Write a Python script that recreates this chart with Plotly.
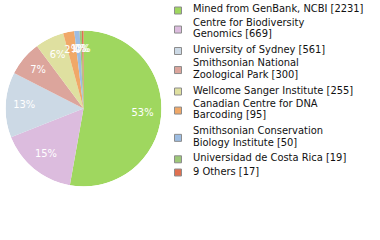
import numpy as np
import plotly.graph_objects as go

# data
names = ["Mined from GenBank, NCBI", "Centre for Biodiversity<br>Genomics",
         "University of Sydney", "Smithsonian National<br>Zoological Park",
         "Wellcome Sanger Institute", "Canadian Centre for DNA<br>Barcoding",
         "Smithsonian Conservation<br>Biology Institute", "Universidad de Costa Rica",
         "9 Others"]
counts = [2231, 669, 561, 300, 255, 95, 50, 19, 17]
# slice shares (percent) as drawn in the picture
shares = [52.8, 16.2, 13.5, 7.3, 6.0, 2.3, 1.1, 0.45, 0.35]
pct_labels = ["53%", "15%", "13%", "7%", "6%", "2%", "1%", "0%", "0%"]
colors = ["#9fd75f", "#dcbcde", "#ccd9e5", "#dca59c", "#dfe0a0", "#f0a868", "#9dbde2", "#9dc878", "#e07050"]

W, H = 380, 240
dom_x = [5.5 / W, 161.5 / W]
dom_y = [1 - 186.5 / H, 1 - 30.5 / H]
FONT = "DejaVu Sans Condensed"

s = np.array(shares, dtype=float)
span = s / s.sum() * 360.0
mid = np.cumsum(span) - span / 2

fig = go.Figure()
fig.add_trace(go.Barpolar(
    r=[1.0] * len(s), theta=mid, width=span, base=0,
    marker=dict(color=colors, line=dict(width=0)),
    text=[n.replace("<br>", " ") for n in names], hoverinfo="text",
    showlegend=False,
))
fig.add_trace(go.Scatterpolar(
    r=[0.76] * len(s), theta=mid, mode="text", text=pct_labels,
    textfont=dict(color="white", size=11, family=FONT),
    showlegend=False, hoverinfo="skip",
))
fig.update_layout(polar=dict(
    domain=dict(x=dom_x, y=dom_y), bgcolor="rgba(0,0,0,0)", hole=0,
    radialaxis=dict(visible=False, range=[0, 1]),
    angularaxis=dict(visible=False, rotation=90, direction="clockwise"),
    bargap=0,
))

# legend
shapes, annotations = [], []
y_first = 9.0
for name, cnt, col in zip(names, counts, colors):
    lines = name.split("<br>")
    lines[-1] = f"{lines[-1]} [{cnt}]"
    ys = [y_first + 11.7 * i for i in range(len(lines))]
    for ln, yy in zip(lines, ys):
        annotations.append(dict(
            x=191 / W, y=1 - yy / H, xref="paper", yref="paper",
            xanchor="left", yanchor="middle", text=ln, showarrow=False,
            font=dict(family=FONT, size=11, color="#111111"),
        ))
    yc = np.mean(ys) + 1.5
    shapes.append(dict(
        type="rect", xref="paper", yref="paper",
        x0=174.5 / W, x1=181.5 / W, y0=1 - (yc - 3.5) / H, y1=1 - (yc + 3.5) / H,
        fillcolor=col, line=dict(color="#8c8c8c", width=1),
    ))
    y_first += 13.2 + 14.1 * (len(lines) - 1)

fig.update_layout(
    width=W, height=H, margin=dict(l=0, r=0, t=0, b=0),
    paper_bgcolor="white", plot_bgcolor="white",
    font=dict(family=FONT, size=11, color="#111"),
    showlegend=False, shapes=shapes, annotations=annotations,
)
fig.write_html("out.html")
